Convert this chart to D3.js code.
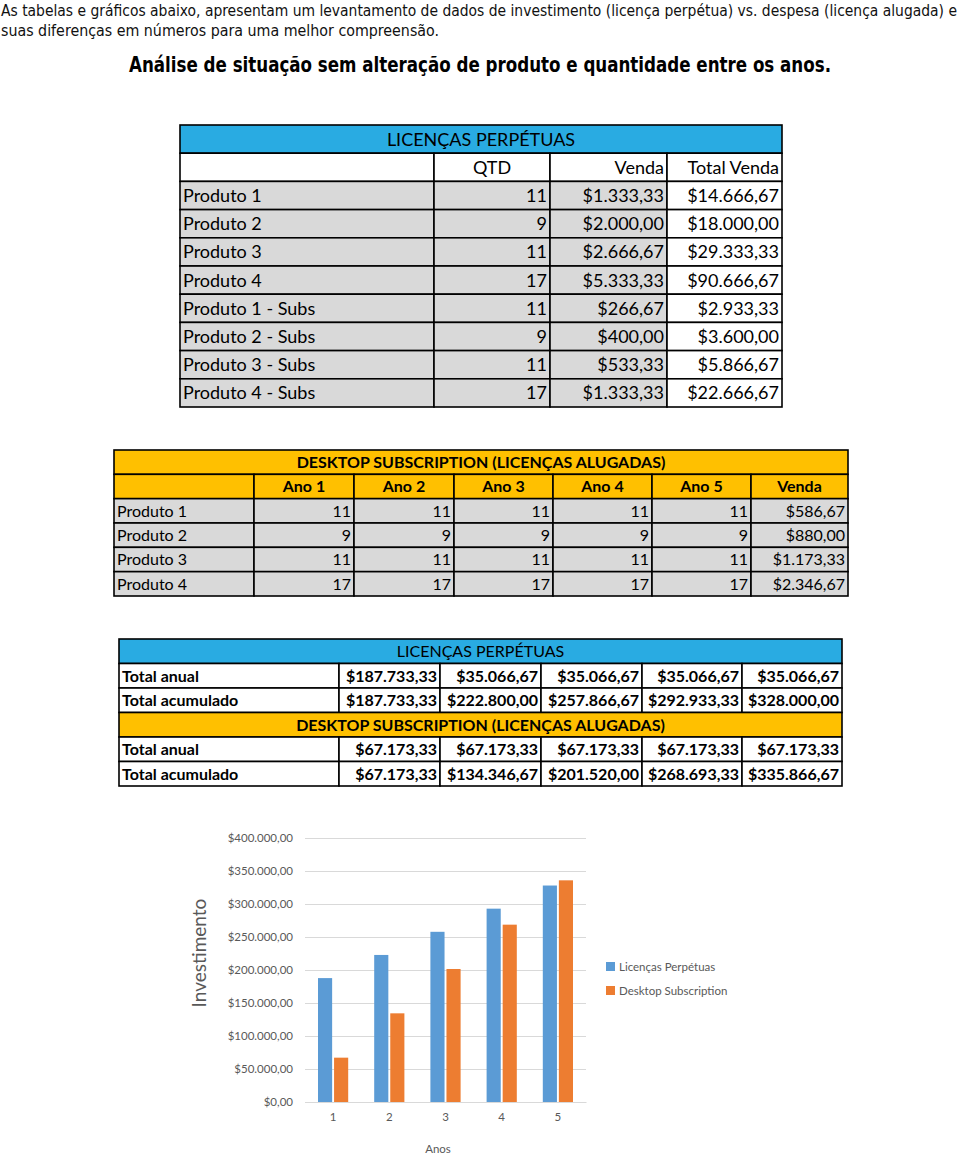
<!DOCTYPE html>
<html>
<head>
<meta charset="utf-8">
<script src="https://cdn.jsdelivr.net/npm/d3@7"></script>
<style>
body { margin: 0; background: #fff; }
svg { display: block; }
.cond { font-family: "Liberation Sans Narrow", "DejaVu Sans Condensed", sans-serif; }
.tb { font-family: Lato, "Noto Sans", sans-serif; fill: #000; }
.ch { font-family: Lato, "Open Sans", sans-serif; fill: #595959; }
</style>
</head>
<body>
<svg width="960" height="1154"></svg>
<script>
// textos
var intro = [ "As tabelas e gráficos abaixo, apresentam um levantamento de dados de investimento (licença perpétua) vs. despesa (licença alugada) e",
	"suas diferenças em números para uma melhor compreensão." ];
var titulo = "Análise de situação sem alteração de produto e quantidade entre os anos.";

// tabela 1 - licenças perpétuas
var produtos1 = [ "Produto 1", "Produto 2", "Produto 3", "Produto 4", "Produto 1 - Subs", "Produto 2 - Subs", "Produto 3 - Subs", "Produto 4 - Subs" ];
var qtd1 = [ 11, 9, 11, 17, 11, 9, 11, 17 ];
var venda1 = [ 1333.33, 2000, 2666.67, 5333.33, 266.67, 400, 533.33, 1333.33 ];
var total1 = [ 14666.67, 18000, 29333.33, 90666.67, 2933.33, 3600, 5866.67, 22666.67 ];

// tabela 2 - desktop subscription
var anos = [ "Ano 1", "Ano 2", "Ano 3", "Ano 4", "Ano 5" ];
var produtos2 = [ "Produto 1", "Produto 2", "Produto 3", "Produto 4" ];
var qtd2 = [ [ 11, 11, 11, 11, 11 ], [ 9, 9, 9, 9, 9 ], [ 11, 11, 11, 11, 11 ], [ 17, 17, 17, 17, 17 ] ];
var venda2 = [ 586.67, 880, 1173.33, 2346.67 ];

// tabela 3 - totais
var perpAnual = [ 187733.33, 35066.67, 35066.67, 35066.67, 35066.67 ];
var perpAcum = [ 187733.33, 222800, 257866.67, 292933.33, 328000 ];
var subsAnual = [ 67173.33, 67173.33, 67173.33, 67173.33, 67173.33 ];
var subsAcum = [ 67173.33, 134346.67, 201520, 268693.33, 335866.67 ];

// gráfico
var series = [ "Licenças Perpétuas", "Desktop Subscription" ];
var categorias = [ "1", "2", "3", "4", "5" ];
var yTicks = [ 0, 50000, 100000, 150000, 200000, 250000, 300000, 350000, 400000 ];

var br = d3.formatLocale({ decimal : ",", thousands : ".", grouping : [ 3 ], currency : [ "$", "" ] });
var money = br.format("$,.2f");

var BLUE = "#29abe2", ORANGE = "#ffc000", GRAY = "#d9d9d9";
var svg = d3.select("svg");

// cabeçalho
var introLen = [ 956, 438 ];
svg.selectAll("text.intro").data(intro).enter().append("text").attr("class", "cond")
	.attr("x", 1).attr("y", function(d, i) { return 16 + i * 19.5; })
	.attr("font-size", 15.5).attr("fill", "#111").text(function(d) { return d; })
	.attr("textLength", function(d, i) { return introLen[i]; }).attr("lengthAdjust", "spacingAndGlyphs");
svg.append("text").attr("class", "cond").attr("x", 480).attr("y", 72).attr("text-anchor", "middle")
	.attr("font-size", 21).attr("font-weight", "bold").attr("textLength", 702).attr("lengthAdjust", "spacingAndGlyphs").text(titulo);

// desenha uma linha de células
function drawRow(g, edges, y, h, cells, fs) {
	cells.forEach(function(c) {
		var x0 = edges[c.c0], x1 = edges[c.c1];
		g.append("rect").attr("x", x0).attr("y", y).attr("width", x1 - x0).attr("height", h)
			.attr("fill", c.fill || "#fff").attr("stroke", "#000").attr("stroke-width", 1.6);
		if (c.text == null) return;
		var tx = c.align == "middle" ? (x0 + x1) / 2 : c.align == "end" ? x1 - 3 : x0 + 3;
		g.append("text").attr("class", "tb").attr("x", tx).attr("y", y + h / 2).attr("dy", "0.36em")
			.attr("text-anchor", c.align || "start").attr("font-size", fs)
			.attr("font-weight", c.bold ? "bold" : "normal").text(c.text);
	});
}

// tabela 1
var cols1 = [ 180, 434, 550, 667, 782 ];
var y1 = d3.scaleBand().domain(d3.range(produtos1.length + 2)).range([ 125, 407 ]);
var t1 = svg.append("g");
drawRow(t1, cols1, y1(0), y1.bandwidth(), [ { c0 : 0, c1 : 4, fill : BLUE, text : "LICENÇAS PERPÉTUAS", align : "middle" } ], 18);
drawRow(t1, cols1, y1(1), y1.bandwidth(), [ { c0 : 0, c1 : 1 }, { c0 : 1, c1 : 2, text : "QTD", align : "middle" },
	{ c0 : 2, c1 : 3, text : "Venda", align : "end" }, { c0 : 3, c1 : 4, text : "Total Venda", align : "end" } ], 18);
produtos1.forEach(function(p, i) {
	drawRow(t1, cols1, y1(i + 2), y1.bandwidth(), [ { c0 : 0, c1 : 1, fill : GRAY, text : p },
		{ c0 : 1, c1 : 2, fill : GRAY, text : qtd1[i], align : "end" },
		{ c0 : 2, c1 : 3, fill : GRAY, text : money(venda1[i]), align : "end" },
		{ c0 : 3, c1 : 4, text : money(total1[i]), align : "end" } ], 18);
});

// tabela 2
var cols2 = [ 114, 254, 354, 454, 553, 652, 751, 848 ];
var y2 = d3.scaleBand().domain(d3.range(produtos2.length + 2)).range([ 450, 596 ]);
var t2 = svg.append("g");
drawRow(t2, cols2, y2(0), y2.bandwidth(), [ { c0 : 0, c1 : 7, fill : ORANGE, text : "DESKTOP SUBSCRIPTION (LICENÇAS ALUGADAS)", align : "middle", bold : true } ], 16);
drawRow(t2, cols2, y2(1), y2.bandwidth(), [ { c0 : 0, c1 : 1, fill : ORANGE } ].concat(anos.map(function(a, j) {
	return { c0 : j + 1, c1 : j + 2, fill : ORANGE, text : a, align : "middle", bold : true };
})).concat([ { c0 : 6, c1 : 7, fill : ORANGE, text : "Venda", align : "middle", bold : true } ]), 16);
produtos2.forEach(function(p, i) {
	drawRow(t2, cols2, y2(i + 2), y2.bandwidth(), [ { c0 : 0, c1 : 1, fill : GRAY, text : p } ].concat(qtd2[i].map(function(q, j) {
		return { c0 : j + 1, c1 : j + 2, fill : GRAY, text : q, align : "end" };
	})).concat([ { c0 : 6, c1 : 7, fill : GRAY, text : money(venda2[i]), align : "end" } ]), 16);
});

// tabela 3
var cols3 = [ 119, 339, 440, 541, 642, 742, 842 ];
var y3 = d3.scaleBand().domain(d3.range(6)).range([ 639, 786 ]);
var t3 = svg.append("g");
function totalRow(i, label, vals) {
	drawRow(t3, cols3, y3(i), y3.bandwidth(), [ { c0 : 0, c1 : 1, text : label, bold : true } ].concat(vals.map(function(v, j) {
		return { c0 : j + 1, c1 : j + 2, text : money(v), align : "end", bold : true };
	})), 16);
}
drawRow(t3, cols3, y3(0), y3.bandwidth(), [ { c0 : 0, c1 : 6, fill : BLUE, text : "LICENÇAS PERPÉTUAS", align : "middle" } ], 16);
totalRow(1, "Total anual", perpAnual);
totalRow(2, "Total acumulado", perpAcum);
drawRow(t3, cols3, y3(3), y3.bandwidth(), [ { c0 : 0, c1 : 6, fill : ORANGE, text : "DESKTOP SUBSCRIPTION (LICENÇAS ALUGADAS)", align : "middle", bold : true } ], 16);
totalRow(4, "Total anual", subsAnual);
totalRow(5, "Total acumulado", subsAcum);

// gráfico de barras
var colors = d3.scaleOrdinal().domain(series).range([ "#5b9bd5", "#ed7d31" ]);
var chartData = categorias.map(function(c, i) { return [ perpAcum[i], subsAcum[i] ]; });
var x0 = d3.scaleBand().domain(categorias).range([ 305, 586 ]);
var x1 = d3.scaleBand().domain(series).range([ 13, x0.bandwidth() - 13 ]).paddingInner(0.12);
var y = d3.scaleLinear().domain([ 0, 400000 ]).range([ 1102, 838 ]);
var chart = svg.append("g");
var yAxis = chart.append("g").attr("transform", "translate(305,0)")
	.call(d3.axisLeft(y).tickValues(yTicks).tickFormat(money).tickSize(-281).tickPadding(12));
yAxis.select(".domain").remove();
yAxis.selectAll("line").attr("stroke", "#d9d9d9");
yAxis.selectAll("text").attr("class", "ch").attr("font-size", 11.5).attr("fill", "#595959");
chart.selectAll("g.cat").data(chartData).enter().append("g")
	.attr("transform", function(d, i) { return "translate(" + x0(categorias[i]) + ",0)"; })
	.selectAll("rect").data(function(d) { return d; }).enter().append("rect")
	.attr("x", function(d, j) { return x1(series[j]); }).attr("width", x1.bandwidth())
	.attr("y", function(d) { return y(d); }).attr("height", function(d) { return y(0) - y(d); })
	.attr("fill", function(d, j) { return colors(series[j]); });
var xAxis = chart.append("g").attr("transform", "translate(0,1102)").call(d3.axisBottom(x0).tickSize(0).tickPadding(11));
xAxis.select(".domain").attr("stroke", "#d9d9d9");
xAxis.selectAll("text").attr("class", "ch").attr("font-size", 11.5).attr("fill", "#595959");
chart.append("text").attr("class", "ch").attr("x", 438).attr("y", 1153).attr("text-anchor", "middle").attr("font-size", 11.5).text("Anos");
chart.append("text").attr("class", "ch").attr("transform", "translate(206,953) rotate(-90)").attr("text-anchor", "middle")
	.attr("font-size", 19).text("Investimento");
var legend = chart.selectAll("g.leg").data(series).enter().append("g")
	.attr("transform", function(d, i) { return "translate(606," + (962 + i * 24) + ")"; });
legend.append("rect").attr("width", 9).attr("height", 9).attr("fill", colors);
legend.append("text").attr("class", "ch").attr("x", 13).attr("y", 4.5).attr("dy", "0.36em").attr("font-size", 11.5).text(function(d) { return d; });
</script>
</body>
</html>
